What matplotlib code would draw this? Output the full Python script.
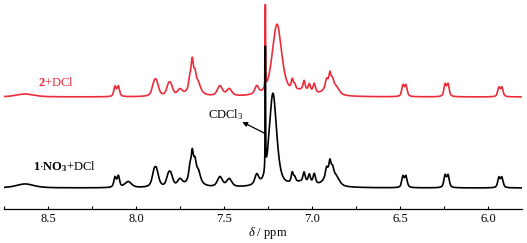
import numpy as np
import matplotlib
matplotlib.use("Agg")
import matplotlib.pyplot as plt
from matplotlib.ticker import MultipleLocator

plt.rcParams['font.family'] = ['Liberation Serif', 'DejaVu Serif']
plt.rcParams['mathtext.fontset'] = 'custom'
plt.rcParams['mathtext.rm'] = 'Liberation Serif'
plt.rcParams['mathtext.it'] = 'Liberation Serif:italic'
plt.rcParams['mathtext.bf'] = 'Liberation Serif:bold'

# peak lists: shift (ppm), height (a.u.), half width (ppm)
black_shift = [8.63, 8.119, 8.100, 8.044, 7.897, 7.882, 7.816, 7.801, 7.750,
               7.67, 7.693, 7.680, 7.665, 7.645, 7.523, 7.470, 7.314, 7.265, 7.222,
               7.05, 7.112, 7.098, 7.045, 7.015, 6.987,
               6.90, 6.917, 6.898, 6.883, 6.86,
               6.483, 6.466, 6.244, 6.227, 5.938, 5.921]
black_height = [4, 10, 11, 6, 13, 13, 10, 10, 7,
                12, 12, 22, 14, 8, 10, 8, 10, 122, 94,
                5, 10, 5, 9, 8, 10,
                12, 9, 13, 8, 6,
                11, 11, 12, 12, 10, 10]
black_width = [0.06, 0.008, 0.008, 0.022, 0.014, 0.014, 0.013, 0.013, 0.016,
               0.035, 0.008, 0.007, 0.008, 0.012, 0.017, 0.017, 0.013, 0.0015, 0.025,
               0.06, 0.007, 0.007, 0.007, 0.007, 0.008,
               0.035, 0.008, 0.007, 0.008, 0.02,
               0.008, 0.008, 0.008, 0.008, 0.008, 0.008]

red_shift = [8.63, 8.119, 8.100, 7.897, 7.882, 7.816, 7.801, 7.750,
             7.67, 7.693, 7.680, 7.665, 7.645, 7.523, 7.470, 7.314, 7.265, 7.199,
             7.05, 7.112, 7.098, 7.045, 7.015, 6.987,
             6.90, 6.917, 6.898, 6.883, 6.86,
             6.483, 6.466, 6.244, 6.227, 5.938, 5.921]
red_height = [3, 10, 10, 11, 11, 9, 9, 6,
              11, 11, 24, 12, 6, 10, 7, 8, 82, 72,
              5, 10, 5, 9, 7, 9,
              10, 8, 12, 7, 5,
              11, 11, 12, 12, 9, 9]
red_width = [0.06, 0.008, 0.008, 0.014, 0.014, 0.013, 0.013, 0.016,
             0.035, 0.008, 0.007, 0.008, 0.012, 0.017, 0.017, 0.013, 0.0015, 0.032,
             0.06, 0.007, 0.007, 0.007, 0.007, 0.008,
             0.035, 0.008, 0.007, 0.008, 0.02,
             0.008, 0.008, 0.008, 0.008, 0.008, 0.008]

black_offset = 21
red_offset = 112
RED = '#EC2B3B'


def spectrum(ppm, shifts, heights, widths, eta=0.6):
    y = np.zeros_like(ppm)
    for x0, h, w in zip(shifts, heights, widths):
        d2 = (ppm - x0) ** 2
        y += h * (eta * w ** 2 / (d2 + w ** 2) + (1 - eta) * np.exp(-np.log(2) * d2 / w ** 2))
    return y


ppm = np.linspace(5.80, 8.76, 30000)

fig = plt.figure(figsize=(5.27, 2.43), dpi=100)
ax = fig.add_axes([4 / 527, 34 / 243, 518 / 527, 209 / 243])

ax.plot(ppm, spectrum(ppm, red_shift, red_height, red_width) + red_offset, color=RED, lw=1.2)
ax.plot(ppm, spectrum(ppm, black_shift, black_height, black_width) + black_offset, color='black', lw=1.2)

ax.set_xlim(8.75, 5.807)
ax.set_ylim(0, 209)

for s in ['left', 'right', 'top']:
    ax.spines[s].set_visible(False)
ax.spines['bottom'].set_linewidth(0.9)
ax.set_yticks([])
ax.xaxis.set_major_locator(MultipleLocator(0.5))
ax.xaxis.set_minor_locator(MultipleLocator(0.25))
ax.tick_params(axis='x', which='both', direction='in', length=2.5, width=0.8,
               labelsize=9, pad=3)
ax.set_xticklabels([], minor=True)

ax.text(8.557, 127, r'$\mathbf{2}$+DCl', color=RED, fontsize=9, ha='left', va='center')
ax.text(8.585, 42, r'$\mathbf{1{\cdot}NO_3}$+DCl', color='black', fontsize=9, ha='left', va='center')
ax.text(7.591, 94, r'CDCl$_3$', fontsize=9, ha='left', va='center')
ax.annotate('', xy=(7.396, 87), xytext=(7.272, 76),
            arrowprops=dict(arrowstyle='-|>', color='black', lw=0.9,
                            mutation_scale=7, shrinkA=0, shrinkB=0))

fig.text(268 / 527, 1 - 233 / 243, r'$\delta$ / ppm', fontsize=9, ha='center', va='center')

fig.savefig('out.png', dpi=100)
